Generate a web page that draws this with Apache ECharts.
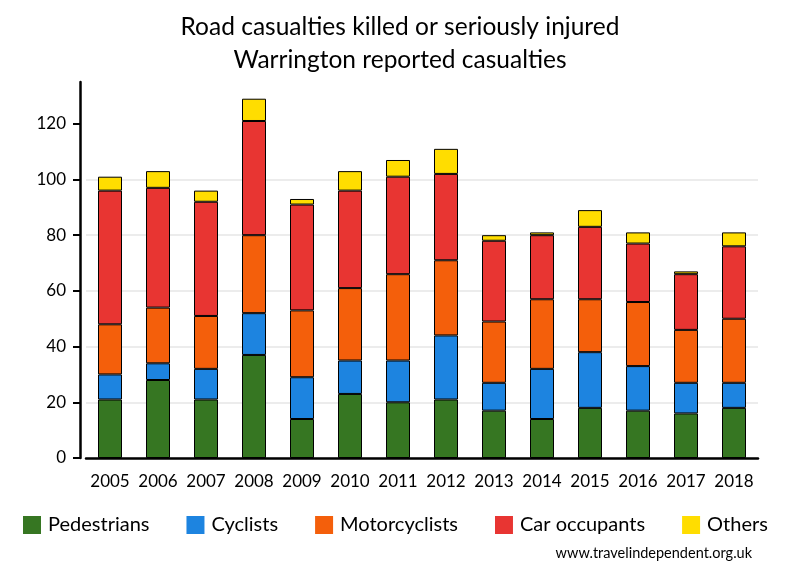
<!DOCTYPE html>
<html>
<head>
<meta charset="utf-8">
<script src="https://cdn.jsdelivr.net/npm/echarts@6/dist/echarts.min.js"></script>
<style>html,body{margin:0;padding:0;background:#fff}#c{width:800px;height:580px}</style>
</head>
<body>
<div id="c"></div>
<script>
const years = ['2005','2006','2007','2008','2009','2010','2011','2012','2013','2014','2015','2016','2017','2018'];
const pedestrians   = [21,28,21,37,14,23,20,21,17,14,18,17,16,18];
const cyclists      = [9,6,11,15,15,12,15,23,10,18,20,16,11,9];
const motorcyclists = [18,20,19,28,24,26,31,27,22,25,19,23,19,23];
const carOccupants  = [48,43,41,41,38,35,35,31,29,23,26,21,20,26];
const others        = [5,6,4,8,2,7,6,9,2,1,6,4,1,5];
const yTicks = [0,20,40,60,80,100,120];
const seriesNames = ['Pedestrians','Cyclists','Motorcyclists','Car occupants','Others'];
const seriesColors = ['#367622','#1d84e0','#f45f0b','#e83532','#ffdd00'];
const seriesData = [pedestrians, cyclists, motorcyclists, carOccupants, others];

const FONT = 'Lato';
const chart = echarts.init(document.getElementById('c'), null, {renderer:'canvas'});
chart.setOption({
  animation: false,
  textStyle: {fontFamily: FONT, color: '#000'},
  title: {
    text: 'Road casualties killed or seriously injured\nWarrington reported casualties',
    left: 'center', top: 6,
    textStyle: {fontFamily: FONT, fontSize: 24.5, fontWeight: 'normal', lineHeight: 33, color: '#000'}
  },
  legend: {
    data: seriesNames,
    left: 18, top: 510, width: 790,
    itemWidth: 18, itemHeight: 18, itemGap: 37,
    icon: 'rect',
    itemStyle: {borderWidth: 0},
    textStyle: {fontFamily: FONT, fontSize: 20, color: '#000', padding: [0,0,0,2]}
  },
  graphic: [{
    type: 'text', right: 48, top: 546,
    style: {text: 'www.travelindependent.org.uk', font: '14.5px ' + FONT, fill: '#000'}
  }],
  grid: {left: 86, right: 42, top: 82, bottom: 122},
  xAxis: {
    type: 'category', data: years,
    axisLine: {lineStyle: {color: '#000', width: 2.5}},
    axisTick: {show: false},
    axisLabel: {fontFamily: FONT, fontSize: 17, color: '#000', margin: 15, interval: 0}
  },
  yAxis: {
    type: 'value', min: 0, max: 135, interval: 20, offset: 6,
    axisLine: {show: true, lineStyle: {color: '#000', width: 2.5}},
    axisTick: {show: true, length: 7, lineStyle: {color: '#000', width: 2}, customValues: yTicks},
    axisLabel: {fontFamily: FONT, fontSize: 17, color: '#000', margin: 14, customValues: yTicks},
    splitLine: {show: true, showMaxLine: false, lineStyle: {color: '#e6e6e6', width: 1.5}}
  },
  series: seriesNames.map((n, i) => ({
    name: n, type: 'bar', stack: 'total', barWidth: '50%',
    data: seriesData[i],
    itemStyle: {color: seriesColors[i], borderColor: '#000', borderWidth: 1}
  }))
});
</script>
</body>
</html>
